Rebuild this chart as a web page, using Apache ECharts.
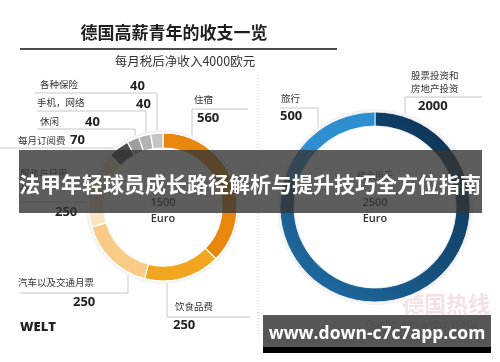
<!DOCTYPE html>
<html><head><meta charset="utf-8">
<script src="https://cdn.jsdelivr.net/npm/echarts@6/dist/echarts.min.js"></script>
<style>html,body{margin:0;padding:0;background:#fff}#c{width:500px;height:362px}</style>
</head><body><div id="c"></div>
<script>
// ---- data ----
const titleText = '德国高薪青年的收支一览';
const subtitleText = '每月税后净收入4000欧元';
const spendCategories = ['住宿', '饮食品费', '汽车以及交通月票', '服装与日用\n品', '每月订阅费', '休闲', '手机，网络', '各种保险'];
const spendValues = [560, 250, 250, 250, 70, 40, 40, 40];
const spendTotal = 1500;
const saveCategories = ['股票投资和\n房地产投资', '旅行'];
const saveValues = [2000, 500];
const saveTotal = 2500;
const currency = 'Euro';
const bannerText = '法甲年轻球员成长路径解析与提升技巧全方位指南';
const urlText = 'www.down-c7c7app.com';

// ---- style ----
const CJK = '"Noto Sans CJK SC", "Noto Sans", sans-serif';
const spendColors = ['#e9860c', '#f2a51e', '#f8cc86', '#fbe4c4', '#4b4b4b', '#9e9e9e', '#b2b2b2', '#c4c4c4'];
const saveColors = [
  new echarts.graphic.LinearGradient(1, 0, 0, 1, [{offset: 0, color: '#0b2d4d'}, {offset: 1, color: '#2172ab'}]),
  '#2e8fd0'
];

const chart = echarts.init(document.getElementById('c'), null, {renderer: 'canvas'});

function label(x, y, text, opts) {
  return Object.assign({type: 'text', x: x, y: y, style: Object.assign({text: text, fill: '#333', font: '9.5px ' + CJK, textVerticalAlign: 'middle'}, opts || {})});
}
function val(x, y, v) {
  return {type: 'text', x: x, y: y, style: {text: String(v), fill: '#222', font: 'bold 13px "Open Sans", sans-serif', textVerticalAlign: 'middle'}};
}
function poly(points) {
  return {type: 'polyline', shape: {points: points}, style: {stroke: '#c8c8c8', lineWidth: 1, fill: null}, silent: true};
}

const g = [];
g.push({type: 'text', x: 174, y: 33, style: {text: titleText, fill: '#1e1e1e', font: 'bold 17px ' + CJK, textAlign: 'center', textVerticalAlign: 'middle'}});
g.push({type: 'line', shape: {x1: 20, y1: 49, x2: 337, y2: 49}, style: {stroke: '#111', lineWidth: 1.5}});
g.push({type: 'text', x: 185, y: 61, style: {text: subtitleText, fill: '#333', font: '12.5px ' + CJK, textAlign: 'center', textVerticalAlign: 'middle'}});
g.push({type: 'line', shape: {x1: 258, y1: 75, x2: 258, y2: 335}, style: {stroke: '#c8c8c8', lineWidth: 1, lineDash: [1, 2]}});

// left callouts
g.push(label(40, 84, spendCategories[7]), val(130, 86, spendValues[7]), poly([[35, 93], [157, 93], [157, 134]]));
g.push(label(37, 102, spendCategories[6]), val(136, 104, spendValues[6]), poly([[37, 111], [146, 111], [146, 136]]));
g.push(label(40, 121, spendCategories[5]), val(85, 122, spendValues[5]), poly([[37, 129], [135, 129], [135, 139]]));
g.push(label(18, 140, spendCategories[4]), val(70, 140, spendValues[4]), poly([[0, 148], [118, 148]]));
g.push(label(194, 99, spendCategories[0]), val(197, 118, spendValues[0]), poly([[248, 109], [192, 109], [192, 139]]));
g.push(label(20, 180, spendCategories[3], {lineHeight: 14}), val(55, 212, spendValues[3]), poly([[20, 202], [89, 202]]));
g.push(label(18, 282, spendCategories[2]), val(73, 302, spendValues[2]), poly([[20, 293], [128, 293], [128, 272]]));
g.push(label(175, 306, spendCategories[1]), val(173, 325, spendValues[1]), poly([[167, 281], [167, 317], [250, 317]]));
// right callouts
g.push(label(281, 98, saveCategories[1]), val(280, 116, saveValues[1]), poly([[280, 108], [318, 108], [318, 131]]));
g.push(label(411, 82, saveCategories[0], {lineHeight: 13}), val(418, 106, saveValues[0]), poly([[405, 117], [405, 97], [482, 97]]));

// centre totals
g.push({type: 'text', x: 375, y: 176, style: {text: '结余用于', fill: '#555', font: '9px ' + CJK, textAlign: 'center', textVerticalAlign: 'middle'}});
[[163, spendTotal], [375, saveTotal]].forEach(function (p) {
  g.push({type: 'text', x: p[0], y: 203, style: {text: String(p[1]), fill: '#333', font: '600 11px "Open Sans", sans-serif', textAlign: 'center', textVerticalAlign: 'middle'}});
  g.push({type: 'text', x: p[0], y: 219, style: {text: currency, fill: '#333', font: '600 11px "Open Sans", sans-serif', textAlign: 'center', textVerticalAlign: 'middle'}});
});

// logo / source
g.push({type: 'text', x: 20, y: 327, style: {text: 'WELT', fill: '#222', font: '800 13px "Open Sans", sans-serif', textVerticalAlign: 'middle'}});
g.push({type: 'text', x: 402, y: 304, style: {text: '德国热线', fill: 'rgba(200,120,130,0.22)', font: 'bold 22px ' + CJK, textVerticalAlign: 'middle'}});
g.push({type: 'text', x: 478, y: 325, style: {text: 'Quelle: Alexander Werle', fill: '#aaa', font: '10px "Open Sans", sans-serif', textAlign: 'right', textVerticalAlign: 'middle'}});

// overlay banners
g.push({type: 'rect', shape: {x: 19, y: 150, width: 463, height: 63}, style: {fill: 'rgba(52,52,52,0.8)'}, z: 100});
g.push({type: 'text', x: 250, y: 184, z: 101, style: {text: bannerText, fill: '#fff', font: 'bold 21px ' + CJK, textAlign: 'center', textVerticalAlign: 'middle'}});
g.push({type: 'rect', shape: {x: 263, y: 315, width: 228, height: 32}, style: {fill: 'rgba(68,68,68,0.9)'}, z: 100});
g.push({type: 'rect', shape: {x: 263, y: 347, width: 228, height: 6}, style: {fill: '#000'}, z: 100});
g.push({type: 'text', x: 377, y: 334, z: 101, style: {text: urlText, fill: '#fff', font: 'bold 17.5px "Open Sans", sans-serif', textAlign: 'center', textVerticalAlign: 'middle'}});

function halo(center, r) {
  return {type: 'pie', center: center, radius: r, silent: true, z: 1, label: {show: false}, labelLine: {show: false},
    itemStyle: {color: '#f4f4f4'}, data: [{value: 1}], animation: false};
}

chart.setOption({
  animation: false,
  graphic: g,
  series: [
    halo([163, 207], [58, 77]),
    halo([375, 207], [80, 98]),
    {
      type: 'pie', center: [163, 207], radius: [59, 74], startAngle: 90, clockwise: true, z: 2,
      label: {show: false}, labelLine: {show: false}, silent: true,
      itemStyle: {borderColor: '#fff', borderWidth: 1.2},
      data: spendCategories.map(function (c, i) { return {name: c, value: spendValues[i], itemStyle: {color: spendColors[i]}}; })
    },
    {
      type: 'pie', center: [375, 207], radius: [81, 95], startAngle: 90, clockwise: true, z: 2,
      label: {show: false}, labelLine: {show: false}, silent: true,
      itemStyle: {borderColor: '#fff', borderWidth: 0.8},
      data: saveCategories.map(function (c, i) { return {name: c, value: saveValues[i], itemStyle: {color: saveColors[i]}}; })
    }
  ]
});
</script></body></html>
